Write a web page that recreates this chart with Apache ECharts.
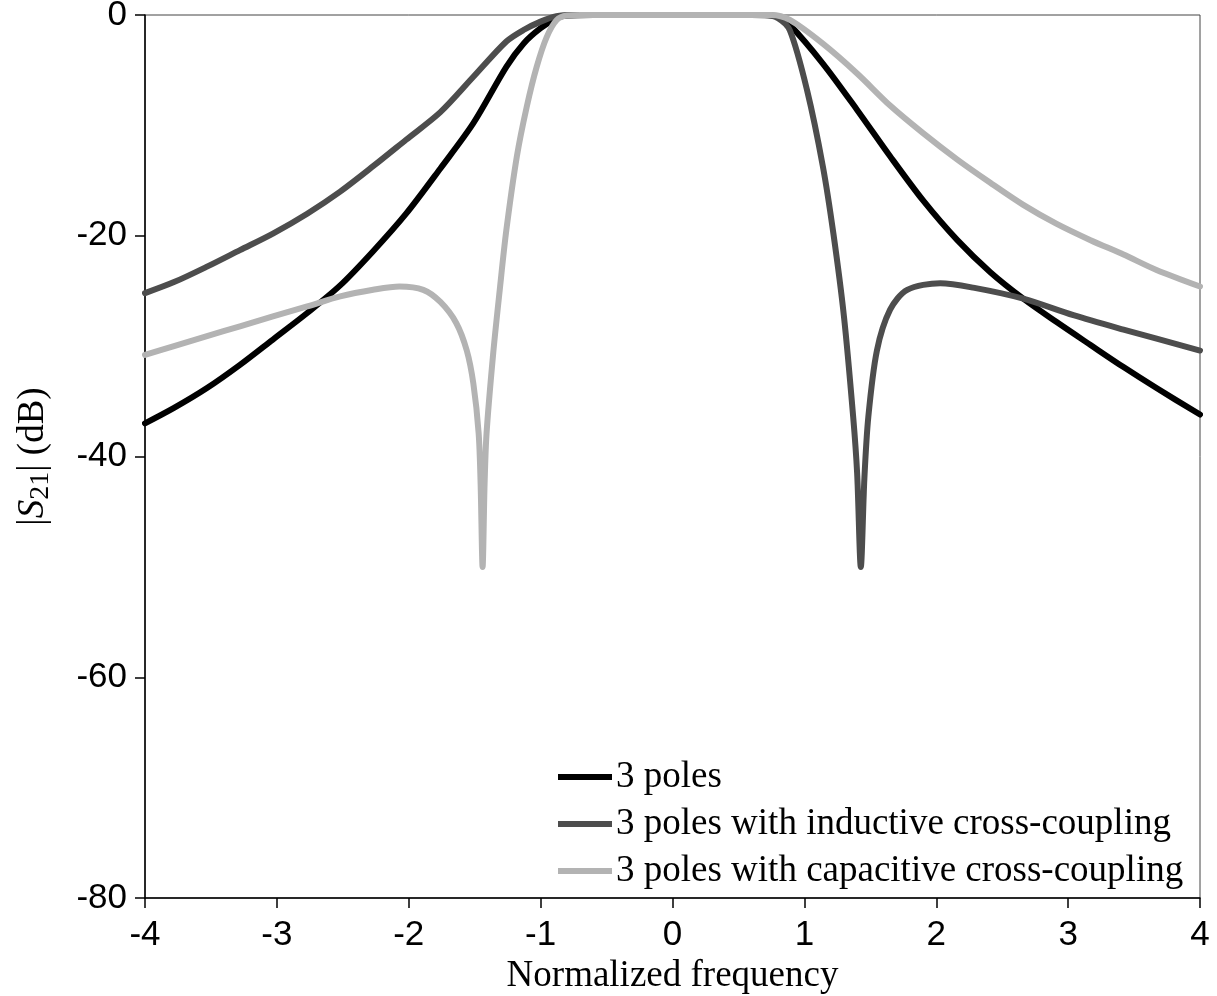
<!DOCTYPE html>
<html>
<head>
<meta charset="utf-8">
<title>|S21| vs normalized frequency</title>
<script src="https://cdn.jsdelivr.net/npm/echarts@6/dist/echarts.min.js"></script>
<style>
  html, body { margin: 0; padding: 0; background: #fff; }
  #chart { width: 1217px; height: 996px; }
</style>
</head>
<body>
<div id="chart"></div>
<script>
// Three-pole filter responses, |S21| in dB against normalized frequency.
const seriesNames = [
  '3 poles',
  '3 poles with inductive cross-coupling',
  '3 poles with capacitive cross-coupling'
];

// 3 poles (no cross-coupling)
const plainFreq = [-4, -3.78, -3.53, -3.28, -3.03, -2.77, -2.52, -2.27, -2.02, -1.76, -1.51, -1.26, -1.13,
  -1.0, -0.88, -0.8, -0.6, 0, 0.6, 0.8, 0.89, 1.14, 1.4, 1.65, 1.9, 2.16, 2.41, 2.66, 2.91, 3.17, 3.42, 3.67, 4];
const plainDb = [-37.0, -35.6, -33.8, -31.7, -29.4, -27.0, -24.5, -21.4, -18.0, -13.9, -9.8, -4.7, -2.6,
  -1.2, -0.3, -0.05, 0, 0, 0, -0.1, -0.9, -4.4, -8.6, -12.8, -16.8, -20.4, -23.3, -25.7, -27.8, -29.9, -31.9, -33.8, -36.2];

// 3 poles with inductive cross-coupling (transmission zero above the passband)
const inductiveFreq = [-4, -3.78, -3.53, -3.28, -3.03, -2.77, -2.52, -2.27, -2.02, -1.76, -1.51, -1.26, -1.13,
  -1.0, -0.88, -0.75, 0, 0.7, 0.8, 0.89, 1.02, 1.14, 1.22, 1.3, 1.37, 1.4, 1.428, 1.455, 1.485, 1.55, 1.65,
  1.78, 2.03, 2.28, 2.66, 3.04, 3.42, 4];
const inductiveDb = [-25.2, -24.2, -22.8, -21.3, -19.8, -18.0, -16.0, -13.7, -11.3, -8.8, -5.6, -2.4, -1.36,
  -0.6, -0.1, 0, 0, 0, -0.3, -1.4, -6.8, -13.7, -19.8, -27.3, -36.4, -41.5, -50.0, -42.0, -36.4, -30.4, -26.7,
  -24.9, -24.3, -24.7, -25.7, -27.2, -28.5, -30.4];

// 3 poles with capacitive cross-coupling (transmission zero below the passband)
const capacitiveFreq = [-4, -3.78, -3.53, -3.28, -3.03, -2.77, -2.52, -2.27, -2.07, -1.89, -1.76, -1.64, -1.56,
  -1.51, -1.47, -1.455, -1.44, -1.425, -1.41, -1.36, -1.31, -1.26, -1.18, -1.105, -1.03, -0.954, -0.878, -0.8,
  -0.7, 0, 0.75, 0.89, 1.14, 1.4, 1.65, 1.9, 2.16, 2.41, 2.66, 2.91, 3.17, 3.42, 3.67, 4];
const capacitiveDb = [-30.8, -30.0, -29.1, -28.2, -27.3, -26.4, -25.5, -24.9, -24.6, -24.9, -26.0, -27.9, -30.4,
  -33.4, -37.9, -42.5, -50.0, -42.5, -37.9, -30.7, -24.9, -19.5, -12.8, -8.3, -4.7, -2.0, -0.45, -0.05,
  0, 0, 0, -0.45, -2.6, -5.3, -8.2, -10.7, -13.1, -15.2, -17.2, -18.9, -20.4, -21.7, -23.1, -24.6];

const xTicks = { min: -4, max: 4, step: 1 };
const yTicks = { min: -80, max: 0, step: 20 };

const colors = ['#000000', '#4d4d4d', '#b3b3b3'];

function pairs(xs, ys) {
  return xs.map((x, i) => [x, ys[i]]);
}

const serif = "'Liberation Serif', 'Times New Roman', serif";
const sans = "'Liberation Sans', Arial, sans-serif";

const chart = echarts.init(document.getElementById('chart'), null, { renderer: 'canvas' });

const lineSeries = [
  [plainFreq, plainDb],
  [inductiveFreq, inductiveDb],
  [capacitiveFreq, capacitiveDb]
].map(([xs, ys], i) => ({
  name: seriesNames[i],
  type: 'line',
  data: pairs(xs, ys),
  showSymbol: false,
  symbol: 'none',
  smooth: 0.3,
  clip: true,
  lineStyle: { color: colors[i], width: 6, cap: 'round', join: 'round' },
  itemStyle: { color: colors[i] },
  z: 2 + i
}));

chart.setOption({
  animation: false,
  backgroundColor: '#ffffff',
  grid: {
    left: 145, right: 17, top: 15, bottom: 98,
    containLabel: false,
    outerBoundsMode: 'none',
    show: true, borderColor: '#444', borderWidth: 1, backgroundColor: 'transparent'
  },
  legend: {
    orient: 'vertical',
    left: 558,
    top: 757,
    padding: 0,
    icon: 'rect',
    itemWidth: 54,
    itemHeight: 6,
    itemGap: 7,
    data: seriesNames,
    textStyle: { fontFamily: serif, fontSize: 37, color: '#000', lineHeight: 40, padding: [0, 0, 0, -1] }
  },
  xAxis: {
    type: 'value',
    min: xTicks.min, max: xTicks.max, interval: xTicks.step,
    name: 'Normalized frequency',
    nameLocation: 'middle',
    nameGap: 56,
    nameTextStyle: { fontFamily: serif, fontSize: 37, color: '#000' },
    axisLine: { show: true, onZero: false, lineStyle: { color: '#000', width: 1.5 } },
    axisTick: { show: true, length: 10, lineStyle: { color: '#000', width: 1.5 } },
    axisLabel: { fontFamily: sans, fontSize: 35, color: '#000', margin: 20 },
    splitLine: { show: false }
  },
  yAxis: {
    type: 'value',
    min: yTicks.min, max: yTicks.max, interval: yTicks.step,
    name: '|{s|S}{sub|21}| (dB)',
    nameLocation: 'middle',
    nameRotate: 90,
    nameGap: 90,
    nameTextStyle: {
      fontFamily: serif, fontSize: 37, color: '#000',
      rich: {
        s: { fontFamily: serif, fontStyle: 'italic', fontSize: 37, color: '#000' },
        sub: { fontFamily: serif, fontSize: 28, color: '#000', padding: [16, 0, 0, 0] }
      }
    },
    axisLine: { show: true, onZero: false, lineStyle: { color: '#000', width: 1.5 } },
    axisTick: { show: true, length: 10, lineStyle: { color: '#000', width: 1.5 } },
    axisLabel: { fontFamily: sans, fontSize: 35, color: '#000', margin: 18 },
    splitLine: { show: false }
  },
  series: lineSeries
});
</script>
</body>
</html>
